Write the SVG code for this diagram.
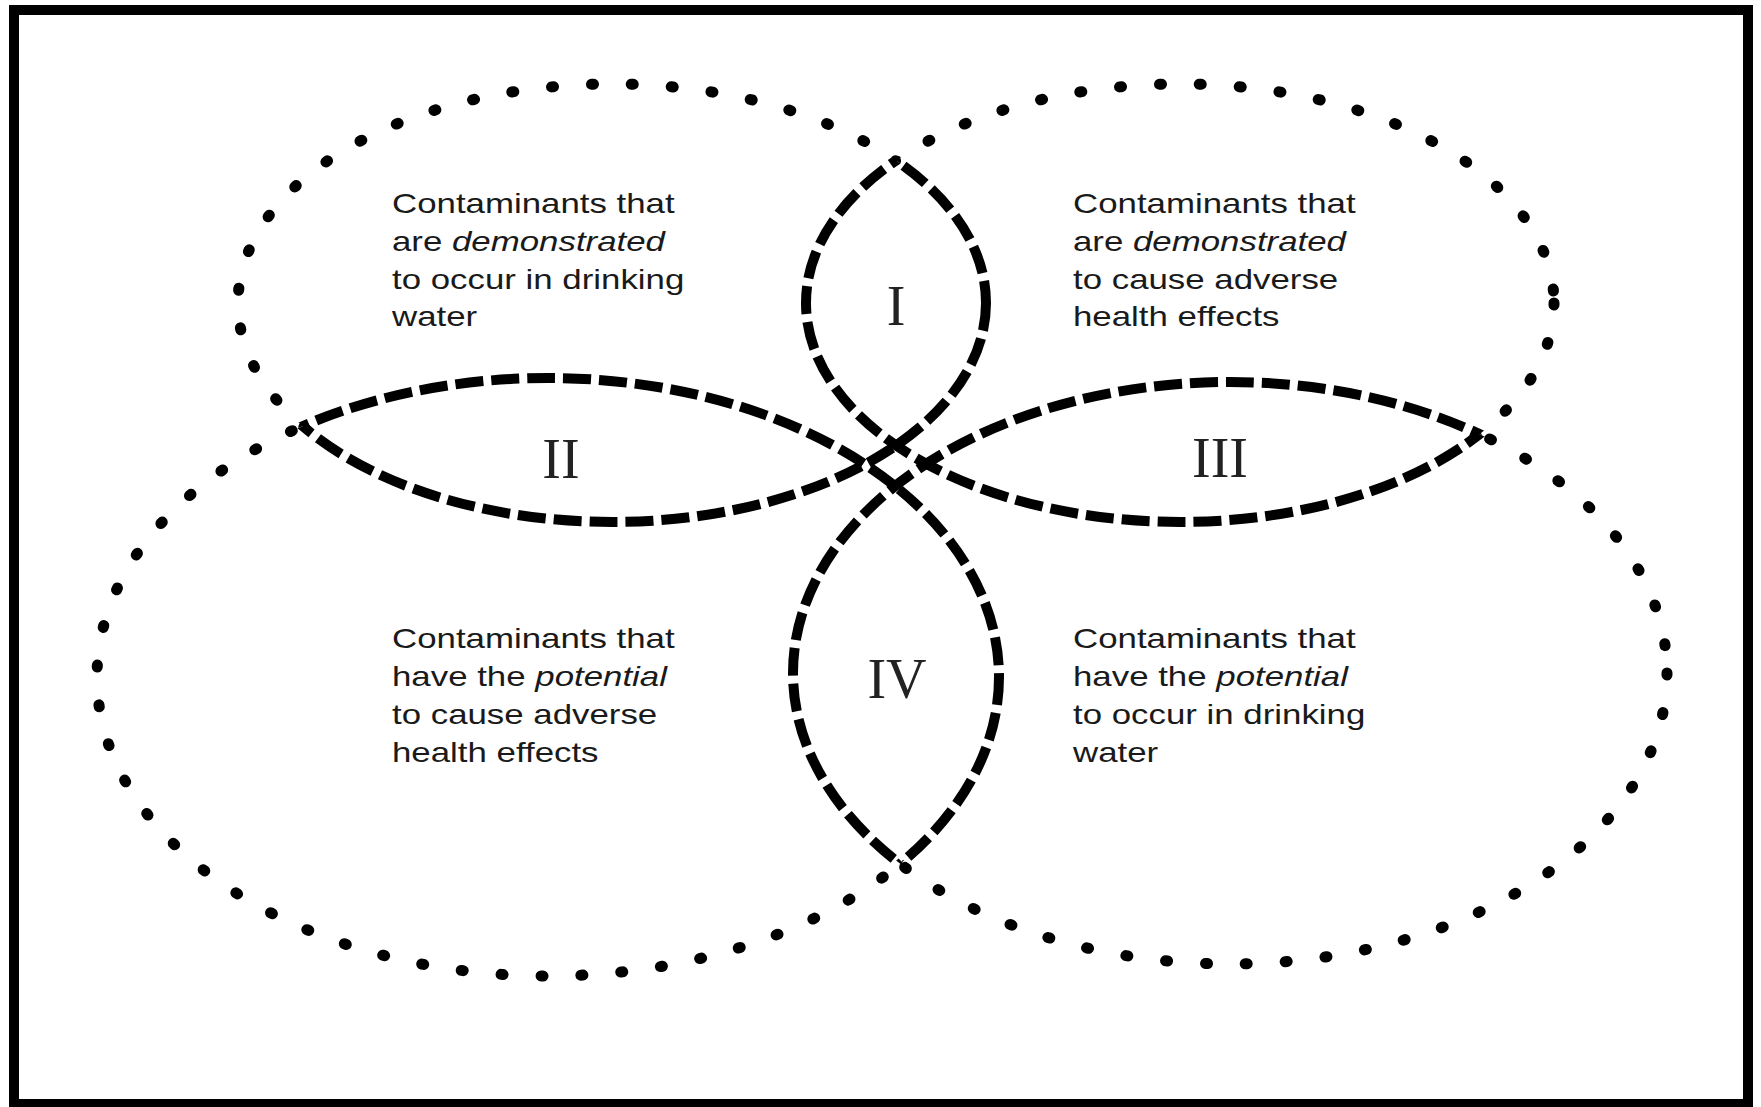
<svg xmlns="http://www.w3.org/2000/svg" width="1761" height="1107" viewBox="0 0 1761 1107">
<style>
.dot{fill:none;stroke:#000;stroke-width:11;stroke-dasharray:2 38;stroke-linecap:round}
.dash{fill:none;stroke:#000;stroke-width:10;stroke-dasharray:28 8}
.lbl{font-family:"Liberation Sans",Arial,sans-serif;font-size:27px;fill:#1a1a1a}
.num{font-family:"Liberation Serif","Times New Roman",serif;font-size:56px;fill:#222;text-anchor:middle}
.frame{fill:none;stroke:#000;stroke-width:10}
</style>
<defs>
<ellipse id="eTL" cx="612" cy="303" rx="374" ry="219"/>
<ellipse id="eTR" cx="1180" cy="303" rx="374" ry="219"/>
<ellipse id="eBL" cx="548" cy="677" rx="451" ry="299"/>
<ellipse id="eBR" cx="1230" cy="673" rx="437" ry="291"/>
<circle id="ctr" cx="894" cy="460" r="38"/>
<mask id="oTL" maskUnits="userSpaceOnUse" x="0" y="0" width="1761" height="1107"><rect width="1761" height="1107" fill="#fff"/><use href="#eTR" fill="#000"/><use href="#eBL" fill="#000"/><use href="#eBR" fill="#000"/><use href="#ctr" fill="#000"/></mask>
<mask id="iTL" maskUnits="userSpaceOnUse" x="0" y="0" width="1761" height="1107"><use href="#eTR" fill="#fff"/><use href="#eBL" fill="#fff"/><use href="#eBR" fill="#fff"/><use href="#ctr" fill="#fff"/></mask>
<mask id="oTR" maskUnits="userSpaceOnUse" x="0" y="0" width="1761" height="1107"><rect width="1761" height="1107" fill="#fff"/><use href="#eTL" fill="#000"/><use href="#eBL" fill="#000"/><use href="#eBR" fill="#000"/><use href="#ctr" fill="#000"/></mask>
<mask id="iTR" maskUnits="userSpaceOnUse" x="0" y="0" width="1761" height="1107"><use href="#eTL" fill="#fff"/><use href="#eBL" fill="#fff"/><use href="#eBR" fill="#fff"/><use href="#ctr" fill="#fff"/></mask>
<mask id="oBL" maskUnits="userSpaceOnUse" x="0" y="0" width="1761" height="1107"><rect width="1761" height="1107" fill="#fff"/><use href="#eTL" fill="#000"/><use href="#eTR" fill="#000"/><use href="#eBR" fill="#000"/><use href="#ctr" fill="#000"/></mask>
<mask id="iBL" maskUnits="userSpaceOnUse" x="0" y="0" width="1761" height="1107"><use href="#eTL" fill="#fff"/><use href="#eTR" fill="#fff"/><use href="#eBR" fill="#fff"/><use href="#ctr" fill="#fff"/></mask>
<mask id="oBR" maskUnits="userSpaceOnUse" x="0" y="0" width="1761" height="1107"><rect width="1761" height="1107" fill="#fff"/><use href="#eTL" fill="#000"/><use href="#eTR" fill="#000"/><use href="#eBL" fill="#000"/><use href="#ctr" fill="#000"/></mask>
<mask id="iBR" maskUnits="userSpaceOnUse" x="0" y="0" width="1761" height="1107"><use href="#eTL" fill="#fff"/><use href="#eTR" fill="#fff"/><use href="#eBL" fill="#fff"/><use href="#ctr" fill="#fff"/></mask>
</defs>
<rect width="1761" height="1107" fill="#fff"/>
<rect class="frame" x="14" y="10" width="1734" height="1094"/>

<g id="set-demonstrated-occurrence">
<use href="#eTL" class="dot" mask="url(#oTL)"/>
<use href="#eTL" class="dash" mask="url(#iTL)"/>
<text class="lbl" transform="translate(392,0) scale(1.29,1)"><tspan x="0" y="213">Contaminants that</tspan><tspan x="0" y="251">are <tspan font-style="italic">demonstrated</tspan></tspan><tspan x="0" y="289">to occur in drinking</tspan><tspan x="0" y="326">water</tspan></text>
</g>

<g id="set-demonstrated-health">
<use href="#eTR" class="dot" mask="url(#oTR)"/>
<use href="#eTR" class="dash" mask="url(#iTR)"/>
<text class="lbl" transform="translate(1073,0) scale(1.29,1)"><tspan x="0" y="213">Contaminants that</tspan><tspan x="0" y="251">are <tspan font-style="italic">demonstrated</tspan></tspan><tspan x="0" y="289">to cause adverse</tspan><tspan x="0" y="326">health effects</tspan></text>
</g>

<g id="set-potential-health">
<use href="#eBL" class="dot" mask="url(#oBL)"/>
<use href="#eBL" class="dash" mask="url(#iBL)"/>
<text class="lbl" transform="translate(392,0) scale(1.29,1)"><tspan x="0" y="648">Contaminants that</tspan><tspan x="0" y="686">have the <tspan font-style="italic">potential</tspan></tspan><tspan x="0" y="724">to cause adverse</tspan><tspan x="0" y="762">health effects</tspan></text>
</g>

<g id="set-potential-occurrence">
<use href="#eBR" class="dot" mask="url(#oBR)"/>
<use href="#eBR" class="dash" mask="url(#iBR)"/>
<text class="lbl" transform="translate(1073,0) scale(1.29,1)"><tspan x="0" y="648">Contaminants that</tspan><tspan x="0" y="686">have the <tspan font-style="italic">potential</tspan></tspan><tspan x="0" y="724">to occur in drinking</tspan><tspan x="0" y="762">water</tspan></text>
</g>

<g id="region-I"><text class="num" x="896" y="325">I</text></g>
<g id="region-II"><text class="num" x="561" y="478">II</text></g>
<g id="region-III"><text class="num" x="1220" y="477">III</text></g>
<g id="region-IV"><text class="num" x="897" y="698">IV</text></g>

<g id="connectors"></g>
</svg>
